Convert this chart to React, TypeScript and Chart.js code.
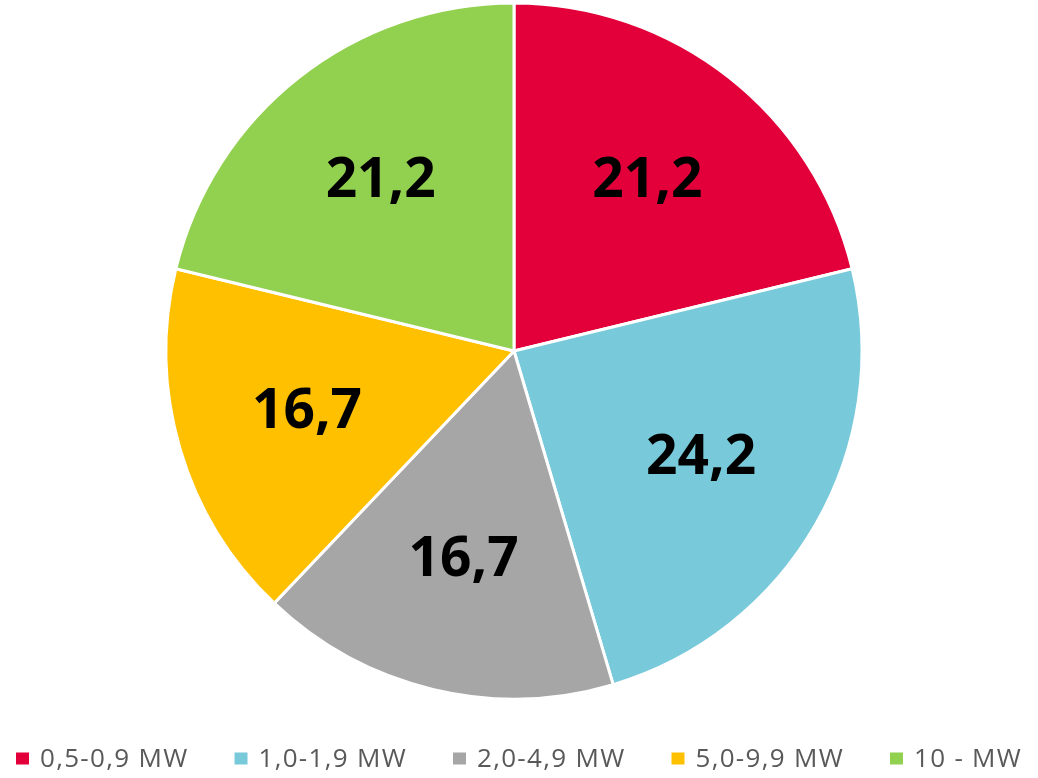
import React, { useEffect, useRef } from "react";
import { Chart, registerables } from "chart.js";

Chart.register(...registerables);

const categories = ["0,5-0,9 MW", "1,0-1,9 MW", "2,0-4,9 MW", "5,0-9,9 MW", "10 - MW"];
const shares = [21.2, 24.2, 16.7, 16.7, 21.2];
const sliceColors = ["#E3003A", "#78C9DA", "#A6A6A6", "#FFC000", "#92D050"];

const labelPlugin = {
  id: "sliceLabels",
  afterDatasetsDraw(chart: any) {
    const ctx = chart.ctx;
    const meta = chart.getDatasetMeta(0);
    ctx.save();
    ctx.font = "bold 55px 'Open Sans'";
    ctx.fillStyle = "#000000";
    ctx.textAlign = "center";
    ctx.textBaseline = "middle";
    meta.data.forEach((arc: any, i: number) => {
      const p = arc.getProps(["x", "y", "startAngle", "endAngle", "outerRadius"], true);
      const mid = (p.startAngle + p.endAngle) / 2;
      const d = p.outerRadius * 0.62;
      const v = chart.data.datasets[0].data[i];
      const txt = v.toFixed(1).replace(".", ",");
      ctx.fillText(txt, p.x + Math.cos(mid) * d, p.y + Math.sin(mid) * d);
    });
    ctx.restore();
  },
};

const legendPlugin = {
  id: "slotLegend",
  afterDraw(chart: any) {
    const ctx = chart.ctx;
    const labels = chart.data.labels as string[];
    const colors = chart.data.datasets[0].backgroundColor as string[];
    const startX = 16;
    const slot = 218.5;
    const cy = 758.5;
    ctx.save();
    ctx.font = "26px 'Open Sans'";
    (ctx as any).letterSpacing = "1.3px";
    ctx.fillStyle = "#595959";
    ctx.textBaseline = "middle";
    ctx.textAlign = "left";
    labels.forEach((lab, i) => {
      const x = startX + i * slot;
      ctx.fillStyle = colors[i];
      ctx.fillRect(x, cy - 6, 13, 12);
      ctx.fillStyle = "#595959";
      ctx.fillText(lab, x + 24, cy + 1);
    });
    ctx.restore();
  },
};

export default function App() {
  const ref = useRef<HTMLCanvasElement>(null);
  useEffect(() => {
    if (!ref.current) return;
    const chart = new Chart(ref.current, {
      type: "pie",
      data: {
        labels: categories,
        datasets: [
          {
            data: shares,
            backgroundColor: sliceColors,
            borderColor: "#FFFFFF",
            borderWidth: 3,
          },
        ],
      },
      options: {
        responsive: false,
        animation: false,
        devicePixelRatio: 1,
        radius: 348,
        layout: { padding: { top: 4, right: 10, left: 0, bottom: 80 } },
        plugins: {
          legend: { display: false },
          tooltip: { enabled: false },
        },
      },
      plugins: [labelPlugin, legendPlugin],
    });
    return () => chart.destroy();
  }, []);
  return (
    <div style={{ position: "absolute", left: 0, top: 0, width: 1038, height: 778, background: "#fff" }}>
      <canvas ref={ref} width={1038} height={778} style={{ width: 1038, height: 778, display: "block" }} />
    </div>
  );
}
